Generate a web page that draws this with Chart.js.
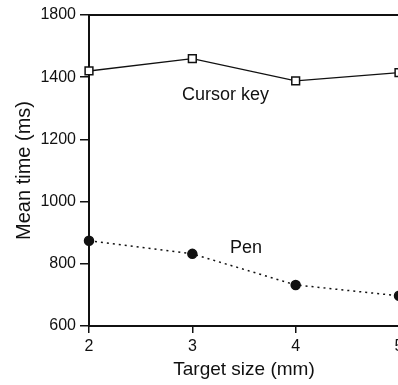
<!DOCTYPE html>
<html>
<head>
<meta charset="utf-8">
<script src="https://cdn.jsdelivr.net/npm/chart.js@4"></script>
<style>
html,body{margin:0;padding:0;background:#fff;overflow:hidden}
#wrap{width:440px;height:385px}
</style>
</head>
<body>
<div id="wrap"><canvas id="c" width="440" height="385"></canvas></div>
<script>
// values
const sizes=[2,3,4,5]
const cursorKey=[1420,1460,1388,1415]
const pen=[874,832,732,697]
const yTicks=[600,800,1000,1200,1400,1600]
const yTickLabels=['600','800','1000','1200','1400','1800']
const notes=[
  {text:'Cursor key',x:3.32,y:1343},
  {text:'Pen',x:3.52,y:850}
]

const font="'Liberation Sans', Arial, sans-serif"
const black='#111'

const notesPlugin={
  id:'notes',
  afterDatasetsDraw(chart){
    const {ctx,scales:{x,y}}=chart
    ctx.save()
    ctx.fillStyle=black
    ctx.font='18px '+font
    ctx.textAlign='center'
    ctx.textBaseline='middle'
    notes.forEach(n=>ctx.fillText(n.text,x.getPixelForValue(n.x),y.getPixelForValue(n.y)))
    ctx.restore()
  }
}

new Chart(document.getElementById('c'),{
  type:'line',
  data:{
    datasets:[{
      label:'Cursor key',
      data:sizes.map((s,i)=>({x:s,y:cursorKey[i]})),
      borderColor:black,
      borderWidth:1.3,
      pointStyle:'rect',
      pointRadius:5.5,
      pointBackgroundColor:'#fff',
      pointBorderColor:black,
      pointBorderWidth:1.5,
      tension:0
    },{
      label:'Pen',
      data:sizes.map((s,i)=>({x:s,y:pen[i]})),
      borderColor:black,
      borderWidth:1.5,
      borderDash:[2,4],
      pointStyle:'circle',
      pointRadius:4.5,
      pointBackgroundColor:black,
      pointBorderColor:black,
      tension:0
    }]
  },
  options:{
    responsive:false,
    animation:false,
    clip:false,
    layout:{padding:{top:15,right:41,left:0,bottom:0}},
    plugins:{legend:{display:false},tooltip:{enabled:false}},
    scales:{
      x:{
        type:'linear',min:2,max:5,
        afterBuildTicks:s=>{s.ticks=sizes.map(v=>({value:v}))},
        afterFit:s=>{s.height=59},
        grid:{drawOnChartArea:false,tickLength:7,color:black,lineWidth:1.5},
        border:{color:black,width:2},
        ticks:{color:black,font:{family:font,size:16},padding:4,callback:v=>String(v)},
        title:{display:true,text:'Target size (mm)',color:black,font:{family:font,size:19},padding:{top:3}}
      },
      x2:{
        type:'linear',position:'top',min:2,max:5,
        afterFit:s=>{s.height=0},
        grid:{display:false},
        ticks:{display:false},
        border:{color:black,width:2}
      },
      y:{
        min:600,max:1600,
        afterBuildTicks:s=>{s.ticks=yTicks.map(v=>({value:v}))},
        afterFit:s=>{s.width=89},
        grid:{drawOnChartArea:false,tickLength:9,color:black,lineWidth:1.5},
        border:{color:black,width:2},
        ticks:{color:black,font:{family:font,size:16},padding:4,
          callback:(v)=>yTickLabels[yTicks.indexOf(v)]},
        title:{display:true,text:'Mean time (ms)',color:black,font:{family:font,size:20},padding:{top:12,bottom:4}}
      }
    }
  },
  plugins:[notesPlugin]
})
</script>
</body>
</html>
